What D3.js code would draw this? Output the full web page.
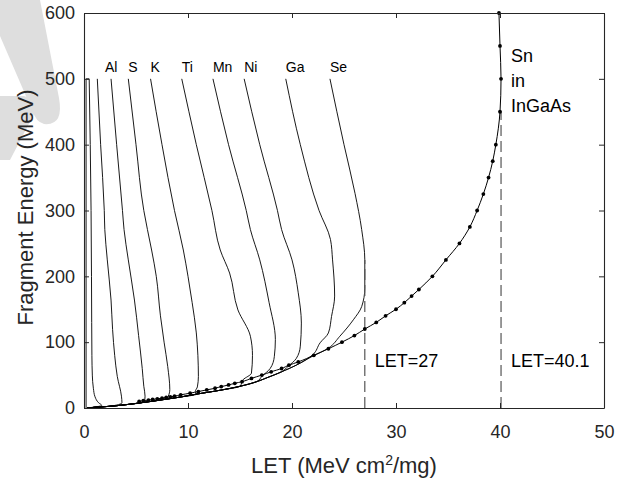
<!DOCTYPE html>
<html>
<head>
<meta charset="utf-8">
<script src="https://cdn.jsdelivr.net/npm/d3@7"></script>
<style>
  body { margin: 0; background: #fff; }
  text { font-family: Arial, "Liberation Sans", sans-serif; fill: #262626; }
  .axis path, .axis line { stroke: #262626; }
</style>
</head>
<body>
<div id="chart"></div>
<script>
// ion names, first two are unlabeled light fragments
var ionNames = ["", "", "Al", "S", "K", "Ti", "Mn", "Ni", "Ga", "Se"];

// each curve: [energy MeV, LET], from 500 MeV down to where it meets the low energy bundle
var ionCurves = [
  [[500,0.5],[400,0.6],[300,0.68],[200,0.72],[130,0.74],[80,0.76],[50,0.8],[30,0.9],[17,1.06],[8,1.4],[4,1.7]],
  [[500,1.28],[400,1.6],[300,1.95],[271,2.0],[225,2.24],[164,2.6],[119,2.75],[80,2.95],[48,3.2],[18,3.6],[8,3.65]],
  [[500,2.6],[400,3.14],[300,3.7],[271,3.85],[225,4.26],[164,4.85],[110,5.25],[60,5.6],[33,5.75],[18,5.87],[13,5.85]],
  [[500,4.26],[400,5.0],[300,5.75],[271,6.1],[240,6.5],[200,6.95],[140,7.35],[100,7.7],[63,8.05],[28,8.25],[18,8.1]],
  [[500,6.4],[400,7.5],[300,8.7],[240,9.55],[200,10.0],[160,10.4],[114,10.8],[80,10.95],[48,11.0],[32,10.9],[25,10.7]],
  [[500,9.4],[400,10.8],[300,12.3],[240,13.1],[205,14.0],[149,14.8],[109,16.0],[80,16.2],[53,16.1],[43,15.3]],
  [[500,12.4],[400,13.9],[300,15.6],[271,16.0],[225,16.9],[160,17.8],[104,18.4],[78,18.3],[60,17.9],[48,17.1]],
  [[500,15.4],[400,16.9],[300,18.6],[271,19.0],[225,20.0],[175,20.6],[129,20.9],[94,20.8],[75,20.4],[63,19.6]],
  [[500,19.4],[400,20.8],[300,22.6],[256,23.7],[225,23.9],[170,24.1],[139,23.8],[114,23.5],[99,22.7],[81,22.0]],
  [[500,23.65],[400,25.0],[326,26.06],[271,26.7],[225,27.0],[182,27.0],[154,26.7],[134,25.9],[109,24.6],[91,23.5]]
];

// lowest energy part shared by all fragment curves
var bundleE   = [91, 78, 65, 55, 46, 40, 33, 27, 21, 16, 12, 8, 5, 2.5, 1, 0];
var bundleLET = [23.4, 21.9, 20.4, 19.0, 17.6, 16.6, 15.0, 13.1, 10.8, 9.0, 7.3, 5.5, 4.0, 2.4, 1.0, 0.3];

// thin closed edge of the lightest fragment near the axis
var edgeE   = [0, 500, 500];
var edgeLET = [0.2, 0.2, 0.5];

// Sn in InGaAs
var snE   = [10,11,12,13,14,15,16,17,18,20,22.5,25,27.5,30,32.5,35,37.5,40,45,50,55,60,65,70,80,90,100,110,120,130,140,150,160,170,180,200,225,250,275,300,325,350,375,400,450,500,550,600];
var snLET = [5.3,5.7,6.2,6.6,7.05,7.5,7.9,8.3,8.7,9.3,10.2,11.0,11.8,12.6,13.2,13.9,14.5,15.2,16.1,17.1,18.0,19.0,19.7,20.6,22.1,23.5,24.8,26.0,27.0,28.1,29.0,30.0,30.8,31.5,32.2,33.5,34.8,36.1,37.1,37.8,38.4,38.9,39.3,39.6,40.0,40.1,40.0,39.9];

var markLET = [27, 40.1];
var markTop = [225, 450];
var markText = ["LET=27", "LET=40.1"];

var xTicks = [0, 10, 20, 30, 40, 50];
var yTicks = [0, 100, 200, 300, 400, 500, 600];

var margin = {top: 13, right: 24, bottom: 70, left: 84},
    width = 628 - margin.left - margin.right,
    height = 478 - margin.top - margin.bottom;

var root = d3.select("#chart").append("svg")
    .attr("width", 628)
    .attr("height", 478);

// faint grey mark in the corner of the original figure
root.append("path")
    .attr("d", "M0,0 L40,0 L59,98 Q64,126 44,124 Q36,122 32,110 L0,36 Z")
    .attr("fill", "#dedede");
root.append("path")
    .attr("d", "M0,96 L24,96 Q40,100 34,114 L10,160 L0,160 Z")
    .attr("fill", "#dedede");

var svg = root.append("g")
    .attr("transform", "translate(" + margin.left + "," + margin.top + ")");

var x = d3.scaleLinear().domain([0, 50]).range([0, width]);
var y = d3.scaleLinear().domain([0, 600]).range([height, 0]);

var line = d3.line()
    .x(function (d) { return x(d[1]); })
    .y(function (d) { return y(d[0]); })
    .curve(d3.curveMonotoneY);

var bundle = bundleE.map(function (e, i) { return [e, bundleLET[i]]; });

ionCurves.forEach(function (c) {
  var knee = c[c.length - 1][0];
  var pts = c.concat(bundle.filter(function (b) { return b[0] < knee - 3; }));
  svg.append("path")
    .attr("d", line(pts))
    .attr("fill", "none")
    .attr("stroke", "#000")
    .attr("stroke-width", 0.9);
});

svg.append("path")
  .attr("d", d3.line().x(function (d) { return x(d[1]); }).y(function (d) { return y(d[0]); })
    (edgeE.map(function (e, i) { return [e, edgeLET[i]]; })))
  .attr("fill", "none")
  .attr("stroke", "#000")
  .attr("stroke-width", 0.9);

// dashed markers
markLET.forEach(function (v, i) {
  svg.append("line")
    .attr("x1", x(v)).attr("x2", x(v))
    .attr("y1", y(0)).attr("y2", y(markTop[i]))
    .attr("stroke", "#555")
    .attr("stroke-width", 1.2)
    .attr("stroke-dasharray", "11,5");
});

var sn = snE.map(function (e, i) { return [e, snLET[i]]; });
svg.append("path")
  .attr("d", line(sn))
  .attr("fill", "none")
  .attr("stroke", "#000")
  .attr("stroke-width", 1);
svg.selectAll(".dot")
  .data(sn)
  .enter().append("circle")
  .attr("class", "dot")
  .attr("cx", function (d) { return x(d[1]); })
  .attr("cy", function (d) { return y(d[0]); })
  .attr("r", 1.9)
  .attr("fill", "#000");

// axes, ticks inside on all four sides
svg.append("g")
  .attr("class", "x axis")
  .attr("transform", "translate(0," + height + ")")
  .call(d3.axisBottom(x).tickValues(xTicks).tickSizeInner(-5).tickSizeOuter(0).tickPadding(17))
  .selectAll("text").style("font-size", "18px");
svg.append("g")
  .attr("class", "x axis")
  .call(d3.axisTop(x).tickValues(xTicks).tickSizeInner(-5).tickSizeOuter(0).tickFormat(""));
svg.append("g")
  .attr("class", "y axis")
  .call(d3.axisLeft(y).tickValues(yTicks).tickSizeInner(-5).tickSizeOuter(0).tickPadding(9))
  .selectAll("text").style("font-size", "18px");
svg.append("g")
  .attr("class", "y axis")
  .attr("transform", "translate(" + width + ",0)")
  .call(d3.axisRight(y).tickValues(yTicks).tickSizeInner(-5).tickSizeOuter(0).tickFormat(""));
svg.selectAll(".axis path").attr("stroke-width", 1.1);
svg.selectAll(".axis .tick text").attr("fill", "#262626");

// ion labels over the top of each curve
ionCurves.forEach(function (c, i) {
  if (!ionNames[i]) return;
  svg.append("text")
    .attr("x", x(c[0][1]) - (ionNames[i] === "Al" ? 6 : 0))
    .attr("y", y(518))
    .attr("dy", "0.35em")
    .style("font-size", "14px")
    .style("fill", "#000")
    .text(ionNames[i]);
});

markText.forEach(function (t, i) {
  svg.append("text")
    .attr("x", x(markLET[i]) + 10)
    .attr("y", y(62))
    .style("font-size", "18px")
    .style("fill", "#000")
    .text(t);
});

var snLabel = svg.append("text")
    .attr("x", x(40.1) + 10)
    .attr("y", y(525))
    .style("font-size", "18px")
    .style("fill", "#000");
["Sn", "in", "InGaAs"].forEach(function (t, i) {
  snLabel.append("tspan")
    .attr("x", x(40.1) + 10)
    .attr("dy", i === 0 ? 0 : 25)
    .text(t);
});

// axis titles
var xl = svg.append("text")
    .attr("x", width / 2)
    .attr("y", height + 65)
    .style("text-anchor", "middle")
    .style("font-size", "22px");
xl.append("tspan").text("LET (MeV cm");
xl.append("tspan").attr("dy", -8).style("font-size", "14px").text("2");
xl.append("tspan").attr("dy", 8).text("/mg)");

svg.append("text")
    .attr("transform", "rotate(-90)")
    .attr("x", -height / 2 + 3)
    .attr("y", -51)
    .style("text-anchor", "middle")
    .style("font-size", "22px")
    .text("Fragment Energy (MeV)");
</script>
</body>
</html>
